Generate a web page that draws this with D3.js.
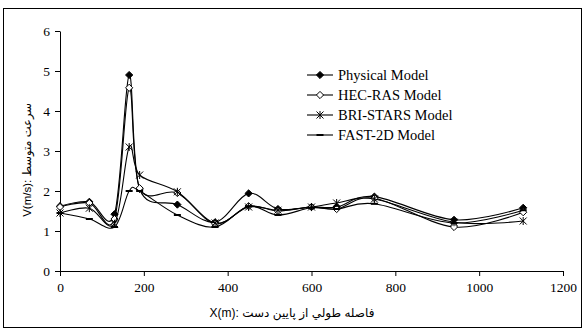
<!DOCTYPE html>
<html>
<head>
<meta charset="utf-8">
<script src="https://cdn.jsdelivr.net/npm/d3@7"></script>
<style>
  body { margin: 0; background: #fff; }
  svg { display: block; }
  .serif { font-family: "Liberation Serif", "Times New Roman", "DejaVu Serif", serif; }
</style>
</head>
<body>
<div id="chart"></div>
<script>
// distances along the reach (m)
const distances = [0, 70, 130, 165, 190, 280, 370, 450, 520, 600, 660, 750, 940, 1105];

// mean velocity (m/s) per model
const physical = [1.62, 1.73, 1.42, 4.9, 2.05, 1.66, 1.22, 1.94, 1.55, 1.6, 1.6, 1.86, 1.28, 1.58];
const hecRas   = [1.6, 1.7, 1.3, 4.58, 2.07, 1.95, 1.18, 1.62, 1.5, 1.6, 1.55, 1.82, 1.1, 1.47];
const briStars = [1.45, 1.57, 1.18, 3.1, 2.4, 1.98, 1.2, 1.6, 1.52, 1.6, 1.7, 1.8, 1.22, 1.25];
const fast2d   = [1.45, 1.3, 1.1, 2.0, 2.0, 1.4, 1.1, 1.62, 1.4, 1.58, 1.55, 1.68, 1.2, 1.52];

const seriesNames = ["Physical Model", "HEC-RAS Model", "BRI-STARS Model", "FAST-2D Model"];
const markerTypes = ["filledDiamond", "openDiamond", "star", "dash"];

const xTicks = [0, 200, 400, 600, 800, 1000, 1200];
const yTicks = [0, 1, 2, 3, 4, 5, 6];

const xLabel = "X(m): فاصله طولي از پايين دست";
const yLabel = "V(m/s): سرعت متوسط";

const W = 585, H = 333;
const sans = "'Liberation Sans', 'DejaVu Sans', Arial, sans-serif";

const svg = d3.select('#chart').append('svg')
    .attr('width', W)
    .attr('height', H);

// outer chart border
svg.append('rect')
    .attr('x', 3.5).attr('y', 8.5)
    .attr('width', 578).attr('height', 319)
    .attr('fill', '#fff')
    .attr('stroke', '#000')
    .attr('stroke-width', 1);

const x = d3.scaleLinear().domain([0, 1200]).range([60, 563]);
const y = d3.scaleLinear().domain([0, 6]).range([271, 31]);

// axes
const xAxis = svg.append('g')
    .attr('transform', `translate(0,${y(0)})`)
    .call(d3.axisBottom(x).tickValues(xTicks).tickFormat(d3.format('d'))
        .tickSize(5).tickSizeOuter(0).tickPadding(6));
const yAxis = svg.append('g')
    .attr('transform', `translate(${x(0)},0)`)
    .call(d3.axisLeft(y).tickValues(yTicks).tickFormat(d3.format('d'))
        .tickSize(5).tickSizeOuter(0).tickPadding(5));

[xAxis, yAxis].forEach(g => {
    g.attr('font-family', null).attr('font-size', null);
    g.select('.domain').attr('stroke', '#000');
    g.selectAll('line').attr('stroke', '#000');
    g.selectAll('text')
        .attr('class', 'serif')
        .style('font-size', '13.5px')
        .attr('fill', '#000');
});

// axis titles
svg.append('text')
    .attr('x', 292)
    .attr('y', 317)
    .attr('text-anchor', 'middle')
    .attr('font-family', sans)
    .attr('font-size', '12px')
    .attr('direction', 'ltr')
    .text(xLabel);

svg.append('text')
    .attr('transform', 'translate(31,160) rotate(-90)')
    .attr('text-anchor', 'middle')
    .attr('font-family', sans)
    .attr('font-size', '11.5px')
    .attr('direction', 'ltr')
    .text(yLabel);

// marker drawing
function drawMarker(g, type, cx, cy) {
    if (type === 'filledDiamond' || type === 'openDiamond') {
        const s = 3.6;
        g.append('path')
            .attr('d', `M${cx},${cy - s}L${cx + s},${cy}L${cx},${cy + s}L${cx - s},${cy}Z`)
            .attr('fill', type === 'filledDiamond' ? '#000' : '#fff')
            .attr('stroke', '#000')
            .attr('stroke-width', 1);
    } else if (type === 'star') {
        const s = 3.5;
        g.append('path')
            .attr('d', `M${cx - s},${cy - s}L${cx + s},${cy + s}M${cx - s},${cy + s}L${cx + s},${cy - s}M${cx},${cy - s - 0.5}L${cx},${cy + s + 0.5}`)
            .attr('stroke', '#000')
            .attr('stroke-width', 1)
            .attr('fill', 'none');
    } else {
        g.append('rect')
            .attr('x', cx - 3.5).attr('y', cy - 1)
            .attr('width', 7).attr('height', 2)
            .attr('fill', '#000');
    }
}

const allSeries = [physical, hecRas, briStars, fast2d];
const line = d3.line()
    .x(d => x(d[0]))
    .y(d => y(d[1]))
    .curve(d3.curveCatmullRom.alpha(0));

allSeries.forEach((vals, i) => {
    const pts = distances.map((d, j) => [d, vals[j]]);
    const g = svg.append('g');
    g.append('path')
        .attr('d', line(pts))
        .attr('fill', 'none')
        .attr('stroke', '#000')
        .attr('stroke-width', 1.1);
    pts.forEach(p => drawMarker(g, markerTypes[i], x(p[0]), y(p[1])));
});

// legend
const legend = svg.append('g');
seriesNames.forEach((name, i) => {
    const ly = 75 + i * 20;
    legend.append('line')
        .attr('x1', 307).attr('x2', 333)
        .attr('y1', ly).attr('y2', ly)
        .attr('stroke', '#000')
        .attr('stroke-width', 1.1);
    drawMarker(legend, markerTypes[i], 320, ly);
    legend.append('text')
        .attr('class', 'serif')
        .attr('x', 338)
        .attr('y', ly + 5)
        .style('font-size', '14.5px')
        .text(name);
});
</script>
</body>
</html>
